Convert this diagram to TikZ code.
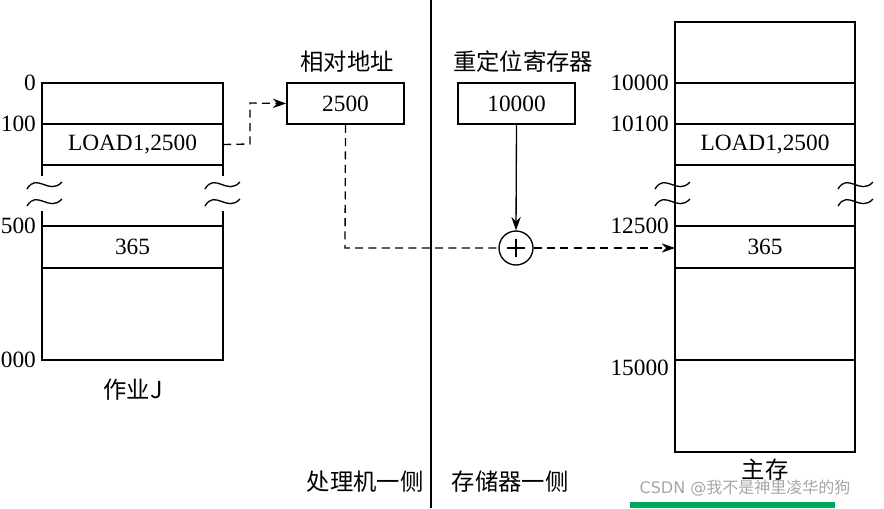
\documentclass[tikz,border=0pt]{standalone}
\usepackage{fontspec}
\setmainfont{Liberation Serif}
\newfontfamily\cjk{Noto Sans CJK SC}
\usetikzlibrary{arrows.meta}
\begin{document}
\begin{tikzpicture}[x=0.75pt,y=-0.75pt,
  line width=1.2pt,
  num/.style={font=\fontsize{17.5}{20}\selectfont,inner sep=1pt},
  lbl/.style={font=\cjk\fontsize{17.5}{20}\selectfont,inner sep=0pt},
  box/.style={draw,line width=1.2pt,minimum width=117*0.75pt,minimum height=41*0.75pt,font=\fontsize{17.5}{20}\selectfont},
  dsh/.style={dashed,dash pattern=on 6pt off 4pt,line width=1pt},
  arr/.style={-{Stealth[length=10pt,width=7pt]}}]
\useasboundingbox (0,0) rectangle (884,508);
% left box
\draw (42,83) rectangle (223,360);
\foreach \y in {124,165,226,268} \draw (42,\y) -- (223,\y);
\node[num] (ld) at (132.5,144.5) {LOAD1,2500};
\node[num] (v1) at (132.5,247) {365};
\node[num,anchor=east] at (38,83) {0};
\node[num,anchor=east] at (38,124) {100};
\node[num,anchor=east] at (38,226) {2500};
\node[num,anchor=east] at (38,360) {5000};
\node[lbl] at (133,390) {作业J};
\foreach \x in {27,205,655,838}{
  \foreach \d in {0,17}{
    \draw[fill=white,draw=none] (\x+6,176+\d) rectangle (\x+30,194+\d);
    \draw[line width=1pt] (\x,189+\d) .. controls (\x+10,172+\d) and (\x+22,196+\d) .. (\x+35,182+\d);
  }
}
% boxes
\node[box] (rel) at (345.5,103.5) {2500};
\node[lbl] at (347,62) {相对地址};
\node[box] (reg) at (516.5,103.5) {10000};
\node[lbl] at (523,62) {重定位寄存器};
\draw (431,0) -- (431,508);
\node[draw,circle,minimum size=34*0.75pt,inner sep=0pt,line width=1pt] (add) at (516,248) {};
\draw[line width=1pt] (507,248) -- (525,248) (516,239) -- (516,257);
% right box
\draw (675,22) rectangle (855,452);
\foreach \y in {83,124,165,226,268,360} \draw (675,\y) -- (855,\y);
\node[num] at (765,144.5) {LOAD1,2500};
\node[num] at (765,247) {365};
\node[num,anchor=east] at (671,83) {10000};
\node[num,anchor=east] at (671,124) {10100};
\node[num,anchor=east] at (671,226) {12500};
\node[num,anchor=east] at (671,368) {15000};
\coordinate (tgt) at (675,248);
\node[lbl] at (765,470) {主存};
% connectors
\draw[dsh,arr] (ld.east -| 223,144) -- (250,144) -- (250,103) -- (rel.west);
\draw[dsh] (rel.south) -- (345,248) -- (add.west);
\draw[arr,line width=1pt] (reg.south) -- (add.north);
\draw[dsh,arr] (add.east) -- (tgt);
\node[lbl] at (365,482) {处理机一侧};
\node[lbl] at (510,482) {存储器一侧};
\node[font=\fontsize{12}{14}\selectfont\fontspec{DejaVu Sans},text=gray!70,inner sep=0pt] at (745,488) {CSDN @{\cjk 我不是神里凌华的狗}};
\fill[teal!70!green] (630,502) rectangle (835,508);
\end{tikzpicture}
\end{document}
